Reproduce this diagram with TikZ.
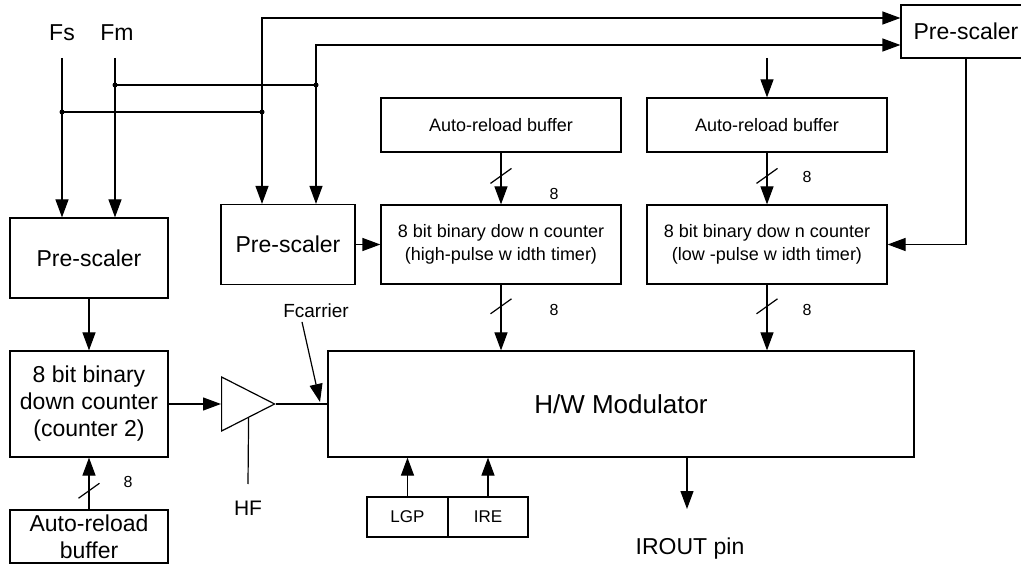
\documentclass[tikz,border=0pt]{standalone}
\usepackage{fontspec}
\setmainfont{Liberation Sans}
\usetikzlibrary{positioning,arrows.meta,calc,shapes.geometric,decorations.markings}

\newcommand{\fbig}{\fontsize{23}{27}\selectfont}
\newcommand{\fmid}{\fontsize{18}{23}\selectfont}
\newcommand{\fsmall}{\fontsize{16}{18}\selectfont}

\begin{document}
\begin{tikzpicture}[x=1pt,y=-1pt,line width=1.2pt,
  blk/.style={draw, inner sep=0pt, align=center},
  arr/.style={-{Triangle[length=18pt,width=13pt]}},
  bus/.style={postaction={decorate,decoration={markings,mark=at position #1 with {\draw[-] (7.5pt,-10.5pt) -- (-7.5pt,10.5pt);}}}}]
  \useasboundingbox (0,0) rectangle (1021,564);

  % Input clocks
  \node[font=\fbig] (fsLab) at (62,33) {Fs};
  \node[font=\fbig] (fmLab) at (117,33) {Fm};
  \coordinate (fsTop) at (62,58);
  \coordinate (fmTop) at (115,58);
  \coordinate (fsJ) at (62,112);
  \coordinate (fmJ) at (115,85);
  \coordinate (jFs) at (262,112);
  \coordinate (jFm) at (316,85);

  % Counter 2 chain
  \node[blk, font=\fbig, minimum width=158pt, minimum height=80pt] (preL) at (89,258) {Pre-scaler};
  \node[blk, font=\fbig, minimum width=158pt, minimum height=106pt] (cntL) at (89,404) {8 bit binary\\down counter\\(counter 2)};
  \node[blk, font=\fbig, minimum width=158pt, minimum height=53pt] (arL) at (89,536.5) {Auto-reload\\buffer};
  \node[draw, shape=isosceles triangle, isosceles triangle stretches, minimum width=54pt, minimum height=53pt, inner sep=0pt, anchor=lower side] (amp) at (221,404) {};

  % Pulse width timers
  \node[blk, font=\fbig, minimum width=134pt, minimum height=80pt] (preM) at (288,244.5) {Pre-scaler};
  \node[blk, font=\fbig, minimum width=130pt, minimum height=53pt] (preR) at (966,31.5) {Pre-scaler};
  \node[blk, font=\fmid, minimum width=240pt, minimum height=54pt] (arH) at (501,125) {Auto-reload buffer};
  \node[blk, font=\fmid, minimum width=240pt, minimum height=54pt] (arLo) at (767,125) {Auto-reload buffer};
  \node[blk, font=\fmid, minimum width=240pt, minimum height=79pt] (cntH) at (501,244.5) {8 bit binary dow n counter\\(high-pulse w idth timer)};
  \node[blk, font=\fmid, minimum width=240pt, minimum height=79pt] (cntLo) at (767,244.5) {8 bit binary dow n counter\\(low -pulse w idth timer)};

  % Modulator
  \node[blk, font=\fontsize{26}{30}\selectfont, minimum width=586pt, minimum height=106pt] (mod) at (621,404) {H/W Modulator};
  \node[blk, font=\fontsize{17}{19}\selectfont, minimum width=81pt, minimum height=40pt] (lgp) at (407.5,517) {LGP};
  \node[blk, font=\fontsize{17}{19}\selectfont, minimum width=80pt, minimum height=40pt] (ire) at (488,517) {IRE};

  % Labels
  \node[font=\fontsize{19}{21}\selectfont] (fcLab) at (316,311) {Fcarrier};
  \node[font=\fontsize{21}{23}\selectfont] (hfLab) at (248,508) {HF};
  \node[font=\fbig] (irLab) at (690,549) {IROUT pin};
  \node[font=\fsmall] (bwL) at (128,482) {8};
  \node[font=\fsmall] (bwA) at (554,194) {8};
  \node[font=\fsmall] (bwB) at (807,177) {8};
  \node[font=\fsmall] (bwC) at (554,310) {8};
  \node[font=\fsmall] (bwD) at (807,310) {8};

  \coordinate (fcEnd) at (320,402);
  \coordinate (hfEnd) at (248,484);
  \coordinate (loTop) at (767,58);
  \coordinate (irEnd) at (687,509);

  % Clock distribution
  \draw[arr] (fsTop) -- (fsTop |- preL.north);
  \draw[arr] (fmTop) -- (fmTop |- preL.north);
  \draw (fsJ) -- (jFs);
  \draw (fmJ) -- (jFm);
  \draw[arr] (jFs) -- (jFs |- preM.north);
  \draw[arr] (jFm) -- (jFm |- preM.north);
  \draw[arr] (jFs) |- ([yshift=13.5pt]preR.west);
  \draw[arr] (jFm) |- ([yshift=-13.5pt]preR.west);
  \foreach \p in {fsJ,fmJ,jFs,jFm}
    \fill (\p) circle (2.5pt);

  % Counter 2 path
  \draw[arr] (preL) -- (cntL);
  \draw[arr, bus=0.36] (arL) -- (cntL);
  \draw[arr] (cntL.east) -- (amp.lower side);
  \draw (amp.apex) -- (amp.apex -| mod.west);
  \draw ($(amp.right corner)!0.5!(amp.apex)$) -- (hfEnd);
  \draw[arr] ([xshift=-14pt]fcLab.south) -- (fcEnd);

  % Timers
  \draw[arr] (preM.east) -- (cntH.west);
  \draw[arr] (loTop) -- (arLo.north);
  \draw[arr, bus=0.45] (arH) -- (cntH);
  \draw[arr, bus=0.45] (arLo) -- (cntLo);
  \draw[arr, bus=0.33] (cntH.south) -- (cntH.south |- mod.north);
  \draw[arr, bus=0.33] (cntLo.south) -- (cntLo.south |- mod.north);
  \draw[arr] (preR.south) |- (cntLo.east);

  % Modulator inputs and output
  \draw[arr] (lgp.north) -- (lgp.north |- mod.south);
  \draw[arr] (ire.north) -- (ire.north |- mod.south);
  \draw[arr] (irEnd |- mod.south) -- (irEnd);
\end{tikzpicture}
\end{document}
